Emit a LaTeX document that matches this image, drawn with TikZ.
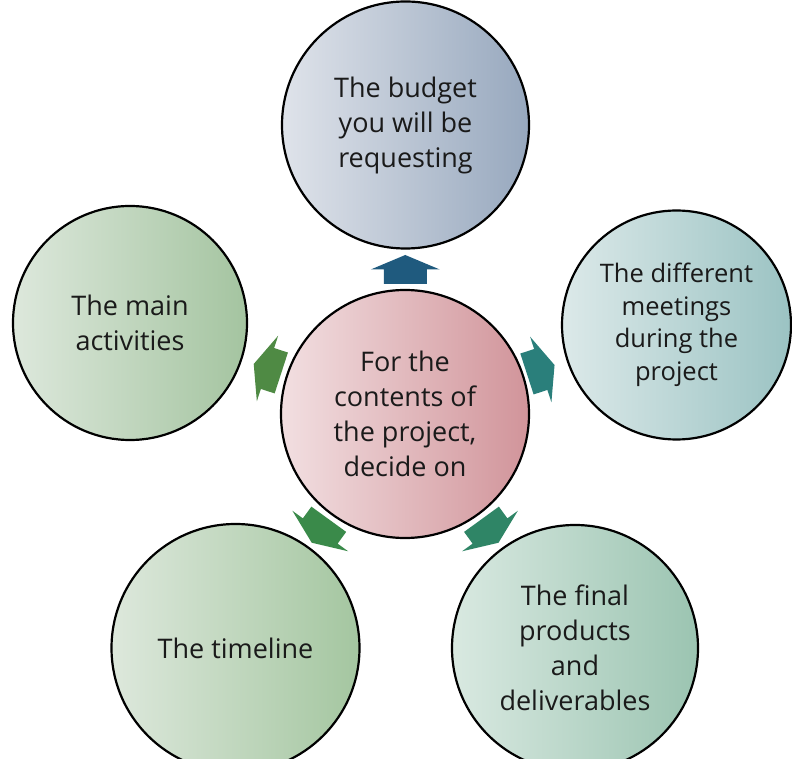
\documentclass[tikz,border=0pt]{standalone}
\usepackage{fontspec}
\setmainfont{Open Sans}
\usetikzlibrary{calc}
\definecolor{topL}{HTML}{DFE3EA}\definecolor{topR}{HTML}{97A8BE}
\definecolor{cenL}{HTML}{F2DFE1}\definecolor{cenR}{HTML}{D1949A}
\definecolor{rgtL}{HTML}{DCE9E9}\definecolor{rgtR}{HTML}{9BC3C3}
\definecolor{lftL}{HTML}{DDE8DC}\definecolor{lftR}{HTML}{A4C4A0}
\definecolor{blL}{HTML}{DDE8DC}\definecolor{blR}{HTML}{A4C6A0}
\definecolor{brL}{HTML}{D9E9E1}\definecolor{brR}{HTML}{9BC4B1}
\definecolor{arTop}{HTML}{1F5A7E}
\definecolor{arRgt}{HTML}{2A7F7B}
\definecolor{arLft}{HTML}{4F8A44}
\definecolor{arBL}{HTML}{3A8A4A}
\definecolor{arBR}{HTML}{2F8566}
\definecolor{txt}{HTML}{1A1A1A}
\tikzset{
  bubble/.style={circle, draw=black, line width=2.2pt, inner sep=0pt, outer sep=0pt,
    align=center, text=txt, font=\fontsize{27}{35}\selectfont},
}
\newcommand\radarrow[3]{%
  \fill[#3, shift={(#1)}, rotate=#2]
    (14.5,0) -- (0,34.5) -- (0,21.5) -- (-14.5,21.5) -- (-14.5,-21.5)
    -- (0,-21.5) -- (0,-34.5) -- cycle;}
\begin{document}
\begin{tikzpicture}[x=1pt,y=1pt]
\useasboundingbox (0,0) rectangle (792,758);
\clip (0,0) rectangle (792,758);
\node[bubble, minimum size=247pt, left color=topL, right color=topR] (t) at (405.5,633) {The budget\\you will be\\requesting};
\node[bubble, minimum size=229pt, left color=rgtL, right color=rgtR, font=\fontsize{25.5}{32.5}\selectfont] (r) at (676.5,433) {The different\\meetings\\during the\\project};
\node[bubble, minimum size=234pt, left color=lftL, right color=lftR] (l) at (130,435) {The main\\activities};
\node[bubble, minimum size=248pt, left color=blL, right color=blR] (bl) at (235.5,110) {The timeline};
\node[bubble, minimum size=246pt, left color=brL, right color=brR] (br) at (575,110) {The final\\products\\and\\deliverables};
\node[bubble, minimum size=248pt, left color=cenL, right color=cenR] (c) at (405,344) {For the\\contents of\\the project,\\decide on};
\coordinate (a1) at ($(c.center)!0.5!(t.center)$);
\coordinate (a2) at ($(c.center)!0.5!(r.center)$);
\coordinate (a3) at ($(c.center)!0.5!(l.center)$);
\coordinate (a4) at ($(c.center)!0.5!(bl.center)$);
\coordinate (a5) at ($(c.center)!0.5!(br.center)$);
\radarrow{a1}{90}{arTop}
\radarrow{a2}{18}{arRgt}
\radarrow{a3}{162}{arLft}
\radarrow{a4}{-126}{arBL}
\radarrow{a5}{-54}{arBR}
\end{tikzpicture}
\end{document}
